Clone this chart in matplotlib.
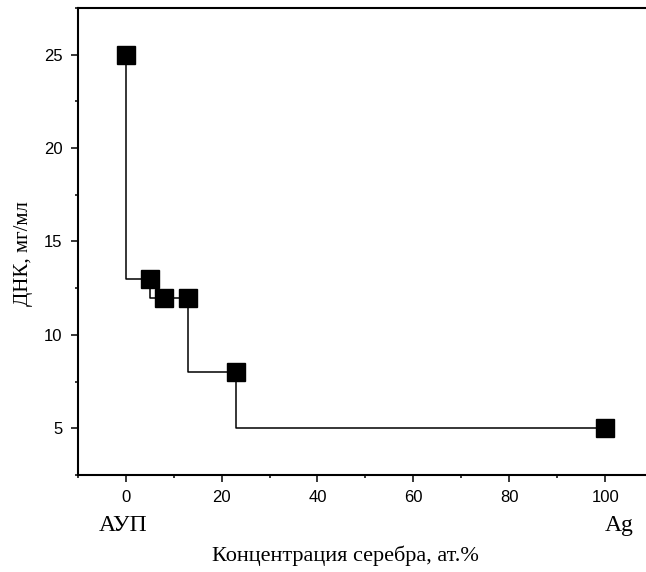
import matplotlib.pyplot as plt
from matplotlib.ticker import MultipleLocator
import matplotlib.transforms as mtransforms

# silver concentration, at.% (0 = pure AUP, 100 = pure Ag)
conc = [0, 5, 8, 13, 23, 100]
dna = [25, 13, 12, 12, 8, 5]

end_labels = ["АУП", "Ag"]
end_pos = [-0.5, 103]

serif = "Liberation Serif"
sans = "Liberation Sans"

fig = plt.figure(figsize=(6.46, 5.72), dpi=100)
ax = fig.add_axes([0.1203, 0.1696, 0.8907, 0.8164])

ax.plot(conc, dna, drawstyle='steps-pre', color='black', lw=1.1, zorder=2)
ax.plot(conc, dna, 's', color='black', markersize=13.5, zorder=3)

ax.set_xlim(-10, 110)
ax.set_ylim(2.5, 27.5)
ax.xaxis.set_major_locator(MultipleLocator(20))
ax.xaxis.set_minor_locator(MultipleLocator(10))
ax.yaxis.set_major_locator(MultipleLocator(5))
ax.yaxis.set_minor_locator(MultipleLocator(2.5))

for s in ax.spines.values():
    s.set_linewidth(1.5)
ax.tick_params(which='major', direction='out', length=5, width=1.1, labelsize=12, pad=6)
ax.tick_params(which='minor', direction='out', length=2.5, width=1.1)
for lab in ax.get_xticklabels() + ax.get_yticklabels():
    lab.set_fontfamily(sans)

# labels under the ends of the composition axis
trans = mtransforms.blended_transform_factory(ax.transData, fig.transFigure)
for pos, txt in zip(end_pos, end_labels):
    ax.text(pos, 0.0717, txt, transform=trans, ha='center', va='baseline',
            fontsize=17, family=serif, clip_on=False)

fig.text(0.534, 0.0192, "Концентрация серебра, ат.%", ha='center', va='baseline',
         fontsize=16, family=serif)
fig.text(0.036, 0.556, "ДНК, мг/мл", rotation=90, ha='center', va='center',
         fontsize=15, family=serif)

plt.savefig("out.png", dpi=100)
